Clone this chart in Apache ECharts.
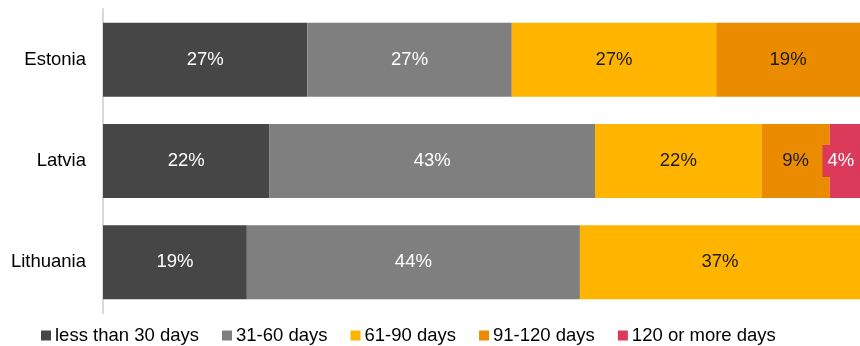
<!DOCTYPE html>
<html>
<head>
<meta charset="utf-8">
<script src="https://cdn.jsdelivr.net/npm/echarts@6/dist/echarts.min.js"></script>
<style>
  html, body { margin: 0; padding: 0; background: #fff; }
  #chart { width: 860px; height: 346px; }
</style>
</head>
<body>
<div id="chart"></div>
<script>
// Share of payments by payment period, per country (percent)
const countries = ['Estonia', 'Latvia', 'Lithuania'];
const seriesNames = ['less than 30 days', '31-60 days', '61-90 days', '91-120 days', '120 or more days'];
const lessThan30 = [27, 22, 19];
const days31to60 = [27, 43, 44];
const days61to90 = [27, 22, 37];
const days91to120 = [19, 9, null];
const days120plus = [null, 4, null];

const colors = ['#464646', '#7f7f7f', '#ffb400', '#eb8c00', '#db3a5a'];
const labelColors = ['#ffffff', '#ffffff', '#1a1a1a', '#1a1a1a', '#ffffff'];
const values = [lessThan30, days31to60, days61to90, days91to120, days120plus];

const font = 'Liberation Sans, Arial, sans-serif';
const fs = 18.5;

const chart = echarts.init(document.getElementById('chart'), null, { renderer: 'canvas' });

const series = seriesNames.map((name, i) => ({
  name: name,
  type: 'bar',
  stack: 'total',
  barCategoryGap: '27%',
  itemStyle: { color: colors[i] },
  label: {
    show: true,
    position: 'inside',
    formatter: p => p.value + '%',
    color: labelColors[i],
    fontFamily: font,
    fontSize: fs,
    offset: i === 4 ? [-4, 0] : [0, 0],
    backgroundColor: i === 4 ? colors[4] : 'transparent',
    padding: i === 4 ? [7, 5, 6, 5] : 0
  },
  emphasis: { disabled: true },
  data: values[i]
}));

chart.setOption({
  animation: false,
  backgroundColor: '#ffffff',
  grid: { left: 103, right: 0, top: 9, bottom: 33, containLabel: false },
  xAxis: {
    type: 'value',
    min: 0,
    max: 100,
    show: false
  },
  yAxis: {
    type: 'category',
    inverse: true,
    data: countries,
    axisLine: { show: true, lineStyle: { color: '#d9d9d9', width: 2 } },
    axisTick: { show: false },
    axisLabel: { color: '#000000', fontFamily: font, fontSize: fs, margin: 17 },
    splitLine: { show: false }
  },
  legend: {
    top: 321,
    left: 36,
    itemWidth: 10,
    itemHeight: 10,
    itemGap: 23,
    icon: 'rect',
    textStyle: { color: '#000000', fontFamily: font, fontSize: fs, padding: [0, 0, 0, -1] },
    data: seriesNames
  },
  series: series
});
</script>
</body>
</html>
